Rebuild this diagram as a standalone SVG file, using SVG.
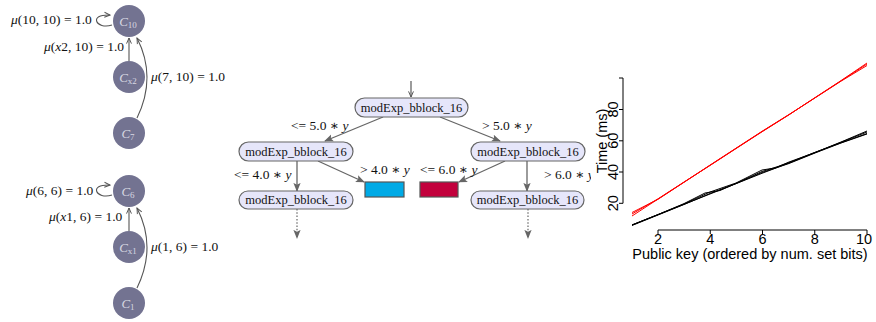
<svg xmlns="http://www.w3.org/2000/svg" width="876" height="322" viewBox="0 0 876 322">
<style>
.bg{fill:#fff}
.cn{fill:#737391}
.ct{font-family:"Liberation Serif","DejaVu Serif",serif;font-style:italic;font-size:13px;fill:#d8d8e2;text-anchor:middle}
.ct tspan.s{font-size:9px;font-style:normal}
.ml{font-family:"Liberation Serif","DejaVu Serif",serif;font-size:13.5px;fill:#111}
.ml .i{font-style:italic}
.ge{fill:none;stroke:#555;stroke-width:1.1}
.tn{fill:#e6e6fa;stroke:#666;stroke-width:1.2}
.tt{font-family:"Liberation Serif","DejaVu Serif",serif;font-size:12.5px;fill:#111;text-anchor:middle}
.te{fill:none;stroke:#666;stroke-width:1.3}
.td{fill:none;stroke:#666;stroke-width:1.2;stroke-dasharray:1.5 1.8}
.ax{fill:none;stroke:#000;stroke-width:1}
.al{font-family:"Liberation Sans",Arial,sans-serif;font-size:14.5px;fill:#000}
.rl{fill:none;stroke:#f00;stroke-width:1}
.bl{fill:none;stroke:#000;stroke-width:1}
</style>
<defs>
<marker id="oa" viewBox="0 0 10 10" refX="9" refY="5" markerWidth="7" markerHeight="7" orient="auto" markerUnits="userSpaceOnUse">
<path d="M1,1.5 L9,5 L1,8.5" fill="none" stroke="#555" stroke-width="1.4"/>
</marker>
<marker id="ta" viewBox="0 0 10 10" refX="9" refY="5" markerWidth="9" markerHeight="9" orient="auto" markerUnits="userSpaceOnUse">
<path d="M0,1 L10,5 L0,9 L2,5 Z" fill="#666"/>
</marker>
<clipPath id="clip6"><rect x="530" y="160" width="61" height="30"/></clipPath>
</defs>
<rect class="bg" x="0" y="0" width="876" height="322"/>

<!-- connectors -->
<g id="connectors">
<path class="ge" d="M112,25 C96,30 88,14 110,15" marker-end="url(#oa)"/>
<path class="ge" d="M129,61 L129,38" marker-end="url(#oa)"/>
<path class="ge" d="M137,118 Q157,77 137,38" marker-end="url(#oa)"/>
<path class="ge" d="M112,195 C96,200 88,184 110,185" marker-end="url(#oa)"/>
<path class="ge" d="M129,231 L129,208" marker-end="url(#oa)"/>
<path class="ge" d="M137,288 Q157,247 137,208" marker-end="url(#oa)"/>

<path class="te" d="M411,81 L411,97" marker-end="url(#oa)"/>
<path class="te" d="M383,117 L325,141" marker-end="url(#ta)"/>
<path class="te" d="M440,117 L500,141" marker-end="url(#ta)"/>
<path class="te" d="M297,161 L297,191" marker-end="url(#ta)"/>
<path class="te" d="M318,161 L364,182" marker-end="url(#ta)"/>
<path class="te" d="M527,161 L527,191" marker-end="url(#ta)"/>
<path class="te" d="M505,161 L459,182" marker-end="url(#ta)"/>
<path class="td" d="M297,209 L297,238" marker-end="url(#ta)"/>
<path class="td" d="M528,209 L528,238" marker-end="url(#ta)"/>
</g>

<!-- left graph nodes -->
<g id="C10"><circle class="cn" cx="129" cy="21" r="16"/><text class="ct" x="128" y="26">C<tspan class="s" dy="2">10</tspan></text></g>
<g id="Cx2"><circle class="cn" cx="129" cy="77" r="16"/><text class="ct" x="128" y="82">C<tspan class="s" dy="2" font-style="italic">x</tspan><tspan class="s">2</tspan></text></g>
<g id="C7"><circle class="cn" cx="129" cy="133" r="16"/><text class="ct" x="128" y="138">C<tspan class="s" dy="2">7</tspan></text></g>
<g id="C6"><circle class="cn" cx="129" cy="191" r="16"/><text class="ct" x="128" y="196">C<tspan class="s" dy="2">6</tspan></text></g>
<g id="Cx1"><circle class="cn" cx="129" cy="247" r="16"/><text class="ct" x="128" y="252">C<tspan class="s" dy="2" font-style="italic">x</tspan><tspan class="s">1</tspan></text></g>
<g id="C1"><circle class="cn" cx="129" cy="303" r="16"/><text class="ct" x="128" y="308">C<tspan class="s" dy="2">1</tspan></text></g>

<g id="graph-labels">
<text class="ml" x="11" y="24"><tspan class="i">μ</tspan>(10, 10) = 1.0</text>
<text class="ml" x="44" y="51"><tspan class="i">μ</tspan>(<tspan class="i">x</tspan>2, 10) = 1.0</text>
<text class="ml" x="151" y="81"><tspan class="i">μ</tspan>(7, 10) = 1.0</text>
<text class="ml" x="26" y="195"><tspan class="i">μ</tspan>(6, 6) = 1.0</text>
<text class="ml" x="49" y="221"><tspan class="i">μ</tspan>(<tspan class="i">x</tspan>1, 6) = 1.0</text>
<text class="ml" x="151" y="251"><tspan class="i">μ</tspan>(1, 6) = 1.0</text>
</g>

<!-- decision tree -->
<g id="t-root"><rect class="tn" x="355" y="98" width="113" height="19" rx="9.5"/><text class="tt" x="411.5" y="111.5">modExp_bblock_16</text></g>
<g id="t-left"><rect class="tn" x="239" y="142" width="114" height="19" rx="9.5"/><text class="tt" x="296" y="155.5">modExp_bblock_16</text></g>
<g id="t-right"><rect class="tn" x="471" y="142" width="114" height="19" rx="9.5"/><text class="tt" x="528" y="155.5">modExp_bblock_16</text></g>
<g id="t-ll"><rect class="tn" x="239" y="191" width="114" height="18" rx="9"/><text class="tt" x="296" y="204">modExp_bblock_16</text></g>
<g id="t-rr"><rect class="tn" x="471" y="191" width="113" height="18" rx="9"/><text class="tt" x="527.5" y="204">modExp_bblock_16</text></g>
<g id="t-blue"><rect x="365" y="182" width="39" height="15" fill="#00aae6" stroke="#555" stroke-width="1.2"/></g>
<g id="t-red"><rect x="420" y="182" width="38" height="15" fill="#c2003c" stroke="#555" stroke-width="1.2"/></g>

<g id="tree-labels">
<text class="ml" x="291" y="130">&lt;= 5.0 ∗ <tspan class="i">y</tspan></text>
<text class="ml" x="482" y="130">&gt; 5.0 ∗ <tspan class="i">y</tspan></text>
<text class="ml" x="234" y="179">&lt;= 4.0 ∗ <tspan class="i">y</tspan></text>
<text class="ml" x="360" y="174">&gt; 4.0 ∗ <tspan class="i">y</tspan></text>
<text class="ml" x="420" y="174">&lt;= 6.0 ∗ <tspan class="i">y</tspan></text>
<text class="ml" x="544" y="179" clip-path="url(#clip6)">&gt; 6.0 ∗ <tspan class="i">y</tspan></text>
</g>

<!-- chart -->
<g id="chart">
<path class="ax" d="M623,78 L623,203.3 M623,78 h-4 M623,109.5 h-4 M623,140.8 h-4 M623,172 h-4 M623,203.3 h-4"/>
<path class="ax" d="M658,230 L867,230 M658,230 v4 M710.25,230 v4 M762.5,230 v4 M814.75,230 v4 M867,230 v4"/>
<g class="al" text-anchor="middle">
<text transform="translate(618,203.3) rotate(-90)">20</text>
<text transform="translate(618,172) rotate(-90)">40</text>
<text transform="translate(618,140.8) rotate(-90)">60</text>
<text transform="translate(618,109.5) rotate(-90)">80</text>
<text transform="translate(607,141) rotate(-90)">Time (ms)</text>
<text x="658" y="243.5">2</text>
<text x="710.25" y="243.5">4</text>
<text x="762.5" y="243.5">6</text>
<text x="814.75" y="243.5">8</text>
<text x="864" y="243.5">10</text>
<text x="750" y="259">Public key (ordered by num. set bits)</text>
</g>
<polyline class="rl" stroke-width="1.6" points="632,216 658,199.1 684,182.2 710,165.3 736,148.4 762,131.6 789,114.7 815,97.8 841,80.9 867,64"/>
<polyline class="rl" points="632,212.5 658,199.3 684,182.3 710,165.1 736,148.2 762,131.3 789,114.5 815,97.9 841,81.2 867,65.5"/>
<polyline class="rl" points="632,214 658,198.8 684,182 710,165.5 736,148.6 762,131.8 789,114.8 815,97.6 841,80.6 867,63"/>
<polyline class="bl" stroke-width="2" points="632,225 658,214.7 684,204.3 710,194 736,183.7 762,173.3 789,163 815,152.7 841,142.3 867,132"/>
<polyline class="bl" points="632,225 658,214.5 684,204 710,192 736,183 762,170 775,168 789,162 815,152.5 841,142 867,131"/>
<polyline class="bl" points="632,225 658,214.6 684,203.6 705,193 720,190.5 736,183.4 762,171.5 778,166.5 789,162.7 815,152.3 841,142.8 867,133.5"/>
<polyline class="bl" points="632,225.5 658,215 684,204.5 710,193.5 736,183.5 762,172.5 789,163.5 815,153 841,143 867,134"/>
</g>
</svg>
